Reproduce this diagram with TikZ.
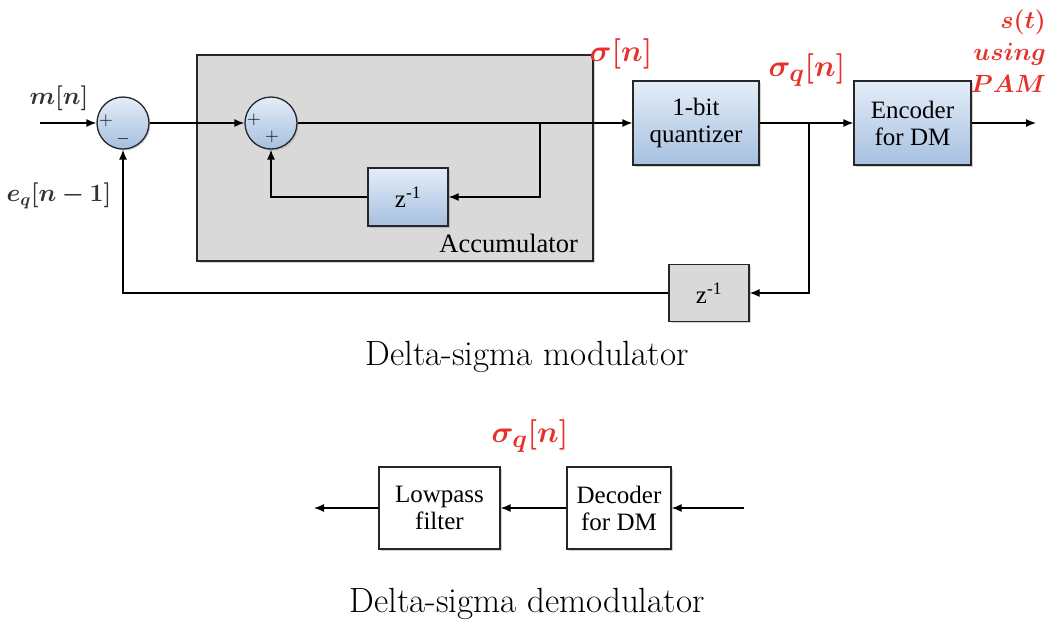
\documentclass[tikz,border=0pt]{standalone}
\usepackage{fontspec}
\usepackage{bm}
\newfontfamily\boxfont{Liberation Serif}
\usetikzlibrary{arrows.meta,shadows}
\definecolor{blueTop}{HTML}{E4EDF8}
\definecolor{blueBot}{HTML}{A6C0DF}
\definecolor{accGray}{HTML}{D9D9D9}
\definecolor{sigRed}{HTML}{E8302A}
\definecolor{lblGray}{HTML}{333333}
\tikzset{
  arr/.style={line width=1.3pt, -{Latex[length=10pt,width=8pt]}},
  shade/.style={drop shadow={shadow xshift=1.5pt, shadow yshift=-1.5pt, opacity=0.35}},
  blkfont/.style={font=\boxfont\fontsize{25}{27}\selectfont},
  blueblk/.style={draw=black!85, line width=1.3pt, top color=blueTop, bottom color=blueBot,
    shade, align=center, blkfont},
  grayblk/.style={draw=black!85, line width=1.3pt, fill=accGray, shade,
    align=center, blkfont},
  whiteblk/.style={draw=black!85, line width=1.3pt, fill=white, shade,
    align=center, blkfont},
  sumnode/.style={circle, draw=black!85, line width=1.3pt, minimum size=52pt, inner sep=0pt,
    top color=blueTop, bottom color=blueBot, shade},
  sgn/.style={font=\fontsize{19}{19}\selectfont, inner sep=0pt},
  % math glyphs stop growing at 24.88pt, so the red labels are scaled up
  redlbl/.style={text=sigRed, font=\fontsize{24.88}{28}\selectfont, inner sep=0pt, scale=1.22},
  inlbl/.style={text=lblGray, font=\fontsize{23}{26}\selectfont, inner sep=0pt},
  caption/.style={font=\fontsize{35}{38}\selectfont, inner sep=0pt},
}
\begin{document}
\begin{tikzpicture}[x=1pt,y=-1pt]
\useasboundingbox (0,0) rectangle (1049,622);

% accumulator enclosure
\node[grayblk, minimum width=396pt, minimum height=206pt] (acc) at (395,158) {};
\node[font=\boxfont\fontsize{26.5}{28}\selectfont, anchor=south east, inner sep=0pt] (acclbl) at (578,253) {Accumulator};

% summing junctions
\node[sumnode] (s1) at (123,123) {};
\node[sumnode] (s2) at (271,123) {};
\node[sgn] (s1a) at (106,121) {+};
\node[sgn] (s1b) at (123,139) {$-$};
\node[sgn] (s2a) at (254,120) {+};
\node[sgn] (s2b) at (272,137) {+};

% blocks
\node[blueblk, minimum width=80pt, minimum height=58pt] (zin) at (408,197) {z\textsuperscript{-1}};
\node[blueblk, minimum width=126pt, minimum height=84pt] (quant) at (696,123) {1-bit\\quantizer};
\node[blueblk, minimum width=117pt, minimum height=84pt] (enc) at (912.5,123) {Encoder\\for DM};
\node[grayblk, minimum width=80pt, minimum height=57pt] (zout) at (709,293) {z\textsuperscript{-1}};

% modulator connectors
\coordinate (min) at (40,123);
\coordinate (b1) at (540,123);
\coordinate (b2) at (809,123);
\coordinate (out) at (1036,123);
\draw[arr] (min) -- (s1.west);
\draw[arr] (s1.east) -- (s2.west);
\draw[arr] (s2.east) -- (quant.west);
\draw[arr] (b1) |- (zin.east);
\draw[arr] (zin.west) -| (s2.south);
\draw[arr] (quant.east) -- (enc.west);
\draw[arr] (b2) |- (zout.east);
\draw[arr] (zout.west) -| (s1.south);
\draw[arr] (enc.east) -- (out);

% signal labels
\node[inlbl] (mn) at (59,98) {$\bm{m[n]}$};
\node[inlbl] (eq) at (59,196) {$\bm{e_q[n-1]}$};
\node[redlbl] (sig) at (621,54) {$\bm{\sigma[n]}$};
\node[redlbl] (sigq) at (807,70) {$\bm{\sigma_q[n]}$};
\node[redlbl, scale=0.82, anchor=north east, align=right, font=\fontsize{24.88}{32}\selectfont] (st) at (1046,10) {$\bm{s(t)}$\\$\bm{using}$\\$\bm{PAM}$};

\node[caption] (cap1) at (527,357) {Delta-sigma modulator};

% demodulator
\node[whiteblk, minimum width=121pt, minimum height=82pt] (lp) at (439.5,508) {Lowpass\\filter};
\node[whiteblk, minimum width=104pt, minimum height=82pt] (dec) at (619,508) {Decoder\\for DM};
\coordinate (din) at (744,508);
\coordinate (dout) at (314,508);
\draw[arr] (din) -- (dec.east);
\draw[arr] (dec.west) -- (lp.east);
\draw[arr] (lp.west) -- (dout);
\node[redlbl] (sigq2) at (530,436) {$\bm{\sigma_q[n]}$};

\node[caption] (cap2) at (527,604) {Delta-sigma demodulator};
\end{tikzpicture}
\end{document}
